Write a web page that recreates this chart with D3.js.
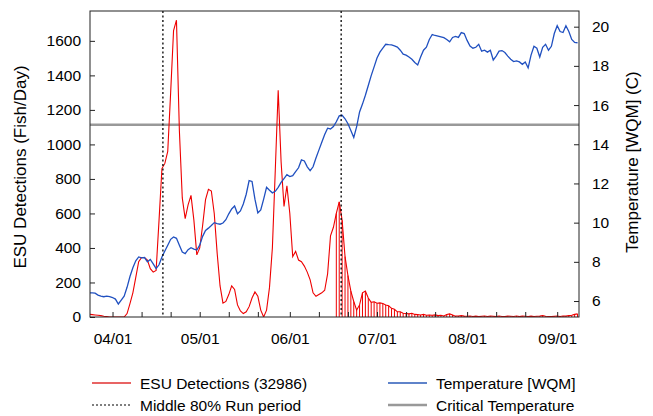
<!DOCTYPE html>
<html>
<head>
<meta charset="utf-8">
<script src="https://cdn.jsdelivr.net/npm/d3@7"></script>
<style>
body { margin: 0; background: #fff; }
text { font-family: "Liberation Sans", Arial, sans-serif; fill: #000; }
</style>
</head>
<body>
<div id="svgContainer"></div>
<script>
// daily values, first day = 03/24
var startDay = "2014-03-24";

// ESU detections (fish/day)
var detections = [
    16, 14, 12, 10, 8, 4, 2, 0,
    0, 0, 0, 0, 0, 20, 78, 140, 230, 320,
    345, 345, 330, 280, 260, 270, 560, 860, 890, 960,
    1300, 1660, 1720, 1080, 690, 570, 650, 705, 560, 360,
    400, 530, 680, 740, 730, 600, 370, 180, 80, 90,
    130, 180, 160, 70, 35, 20, 30, 60, 110, 145,
    120, 40, 0, 40, 170, 400, 850, 1314, 900, 640,
    760, 600, 350, 380, 330, 320, 295, 260, 215, 140,
    120, 130, 140, 155, 250, 470, 520, 600, 667, 560,
    350, 240, 150, 90, 40, 70, 140, 150, 110, 85,
    88, 80, 82, 78, 70, 65, 50, 45, 30, 30,
    22, 20, 18, 22, 15, 14, 12, 15, 10, 12,
    10, 12, 8, 10, 6, 15, 18, 12, 5, 6,
    8, 5, 4, 6, 3, 5, 2, 4, 6, 3,
    5, 4, 2, 6, 3, 2, 5, 4, 3, 6,
    2, 5, 4, 3, 5, 3, 4, 5, 8, 4,
    3, 2, 4, 5, 3, 6, 5, 8, 10, 15,
    18
];

// temperature [WQM] (C)
var temperature = [
    6.42, 6.42, 6.40, 6.30, 6.25, 6.22, 6.25, 6.22,
    6.18, 6.10, 5.85, 6.05, 6.25, 6.70, 7.25, 7.70, 8.05, 8.25,
    8.20, 8.22, 8.00, 8.12, 7.90, 7.65, 7.85, 8.25, 8.55, 8.85,
    9.15, 9.27, 9.20, 8.85, 8.50, 8.42, 8.62, 8.72, 8.65, 8.60,
    8.85, 9.30, 9.60, 9.72, 9.85, 10.00, 9.95, 9.92, 9.98, 10.15,
    10.45, 10.70, 10.85, 10.45, 10.60, 10.95, 11.45, 12.15, 12.10, 11.20,
    10.50, 10.65, 11.20, 11.80, 11.65, 11.52, 11.60, 11.80, 12.05, 12.25,
    12.45, 12.35, 12.40, 12.60, 12.80, 13.20, 13.15, 12.85, 12.65, 12.85,
    13.30, 13.70, 14.10, 14.50, 14.82, 14.78, 14.90, 15.15, 15.45, 15.48,
    15.30, 15.05, 14.70, 14.35, 14.90, 15.65, 16.05, 16.50, 17.00, 17.50,
    17.95, 18.40, 18.70, 18.90, 19.10, 19.08, 19.07, 19.02, 18.96, 18.80,
    18.60, 18.55, 18.45, 18.34, 18.17, 18.05, 18.45, 18.80, 18.95, 19.35,
    19.60, 19.55, 19.52, 19.48, 19.44, 19.35, 19.23, 19.45, 19.50, 19.45,
    19.70, 19.65, 19.30, 19.01, 18.90, 18.95, 19.10, 18.75, 18.80, 18.70,
    18.80, 18.30, 18.50, 18.75, 18.78, 18.68, 18.50, 18.34, 18.22, 18.25,
    18.20, 18.08, 18.20, 17.90, 18.55, 19.00, 18.90, 18.45, 18.95, 19.10,
    18.80, 19.00, 19.65, 20.05, 19.75, 19.70, 20.05, 19.75, 19.35, 19.20,
    19.18
];

var criticalTemp = 15;
var middle80 = ["2014-04-18T08:00", "2014-06-18T16:00"];
var barsFrom = "2014-06-17";   // daily drop lines drawn from this day on
var leftTicks = [0, 200, 400, 600, 800, 1000, 1200, 1400, 1600];
var rightTicks = [6, 8, 10, 12, 14, 16, 18, 20];
var monthTicks = ["2014-04-01", "2014-05-01", "2014-06-01", "2014-07-01", "2014-08-01", "2014-09-01"];
var legendLeft = ["ESU Detections (32986)", "Middle 80% Run period"];
var legendRight = ["Temperature [WQM]", "Critical Temperature"];

var margin = {top: 11, right: 74, bottom: 99, left: 90},
    W = 653, H = 416,
    width = W - margin.left - margin.right,
    height = H - margin.top - margin.bottom;

var parse = d3.timeParse("%Y-%m-%d");
var parseT = d3.timeParse("%Y-%m-%dT%H:%M");
var day0 = parse(startDay);
var rows = detections.map(function(v, i) {
    return {date: d3.timeDay.offset(day0, i), det: v, temp: temperature[i]};
});

var svg = d3.select("#svgContainer").append("svg")
    .attr("width", W).attr("height", H);
svg.append("rect").attr("width", W).attr("height", H).attr("fill", "#fff");

var g = svg.append("g")
    .attr("transform", "translate(" + margin.left + "," + margin.top + ")");

var x = d3.scaleTime()
    .domain([new Date(2014, 2, 24, 6), new Date(2014, 8, 8, 12)])
    .range([0, width]);
var yL = d3.scaleLinear().domain([0, 1773]).range([height, 0]);
var yR = d3.scaleLinear().domain([5.185, 20.8]).range([height, 0]);

g.append("clipPath").attr("id", "clip")
    .append("rect").attr("width", width).attr("height", height);
var plot = g.append("g").attr("clip-path", "url(#clip)");

// critical temperature
plot.append("line")
    .attr("x1", 0).attr("x2", width)
    .attr("y1", yR(criticalTemp)).attr("y2", yR(criticalTemp))
    .style("stroke", "#999").style("stroke-width", 2.5);

// drop lines for the tail of the run
var cut = parse(barsFrom);
plot.selectAll(".bar")
    .data(rows.filter(function(d) { return d.date >= cut; }))
    .enter().append("line")
    .attr("x1", function(d) { return x(d.date); })
    .attr("x2", function(d) { return x(d.date); })
    .attr("y1", yL(0))
    .attr("y2", function(d) { return yL(d.det); })
    .style("stroke", "#e00").style("stroke-width", 1);

plot.append("path").datum(rows)
    .attr("fill", "none").style("stroke", "#e00").style("stroke-width", 1.1)
    .attr("d", d3.line().x(function(d) { return x(d.date); }).y(function(d) { return yL(d.det); }));

plot.append("path").datum(rows)
    .attr("fill", "none").style("stroke", "#2050c0").style("stroke-width", 1.3)
    .attr("d", d3.line().x(function(d) { return x(d.date); }).y(function(d) { return yR(d.temp); }));

// middle 80% run period
plot.selectAll(".run").data(middle80).enter().append("line")
    .attr("x1", function(d) { return x(parseT(d)); })
    .attr("x2", function(d) { return x(parseT(d)); })
    .attr("y1", 0).attr("y2", height)
    .style("stroke", "#000").style("stroke-width", 1.3)
    .style("stroke-dasharray", "2,2.5");

// axes, ticks pointing inward
var dayTicks = x.ticks(d3.timeDay.filter(function(d) {
    return d.getDate() === 1 || d.getDate() === 11 || d.getDate() === 21;
}));
var xAxis = g.append("g").attr("transform", "translate(0," + height + ")")
    .call(d3.axisBottom(x).tickValues(dayTicks).tickSize(-5).tickFormat(""));
var xLab = g.append("g").attr("transform", "translate(0," + height + ")")
    .call(d3.axisBottom(x).tickValues(monthTicks.map(parse)).tickSize(0)
        .tickPadding(16).tickFormat(d3.timeFormat("%m/%d")));
xLab.select(".domain").remove();

var leftAxis = g.append("g")
    .call(d3.axisLeft(yL).tickValues(leftTicks).tickSize(-5).tickPadding(9)
        .tickFormat(d3.format("d")));
var rightAxis = g.append("g").attr("transform", "translate(" + width + ",0)")
    .call(d3.axisRight(yR).tickValues(rightTicks).tickSize(-5).tickPadding(13));

[xAxis, xLab, leftAxis, rightAxis].forEach(function(a) {
    a.selectAll("text").style("font-size", "15.5px").style("font-family", "Liberation Sans, Arial, sans-serif");
    a.selectAll("line").style("stroke", "#222");
    a.select(".domain").remove();
});

// frame
g.append("rect").attr("width", width).attr("height", height)
    .attr("fill", "none").style("stroke", "#222").style("stroke-width", 1);

// axis titles
svg.append("text")
    .attr("transform", "translate(26," + (margin.top + height / 2 + 3) + ") rotate(-90)")
    .attr("text-anchor", "middle").style("font-size", "17px")
    .text("ESU Detections (Fish/Day)");
svg.append("text")
    .attr("transform", "translate(638," + (margin.top + height / 2 - 2) + ") rotate(-90)")
    .attr("text-anchor", "middle").style("font-size", "17px")
    .text("Temperature [WQM] (C)");

// legend
var legend = svg.append("g");
var legendStyles = [
    {stroke: "#e03030", width: 1.3, dash: null},
    {stroke: "#000", width: 1.2, dash: "2,2"},
    {stroke: "#2a5ab8", width: 1.5, dash: null},
    {stroke: "#999", width: 2.5, dash: null}
];
legendLeft.concat(legendRight).forEach(function(label, i) {
    var col = i < 2 ? 0 : 1, row = i % 2;
    var lx = col === 0 ? 92 : 388, ly = 383 + row * 22;
    legend.append("line")
        .attr("x1", lx).attr("x2", lx + 39).attr("y1", ly).attr("y2", ly)
        .style("stroke", legendStyles[i].stroke)
        .style("stroke-width", legendStyles[i].width)
        .style("stroke-dasharray", legendStyles[i].dash);
    legend.append("text")
        .attr("x", lx + 48).attr("y", ly + 5.5)
        .style("font-size", "15.5px")
        .text(label);
});
</script>
</body>
</html>
